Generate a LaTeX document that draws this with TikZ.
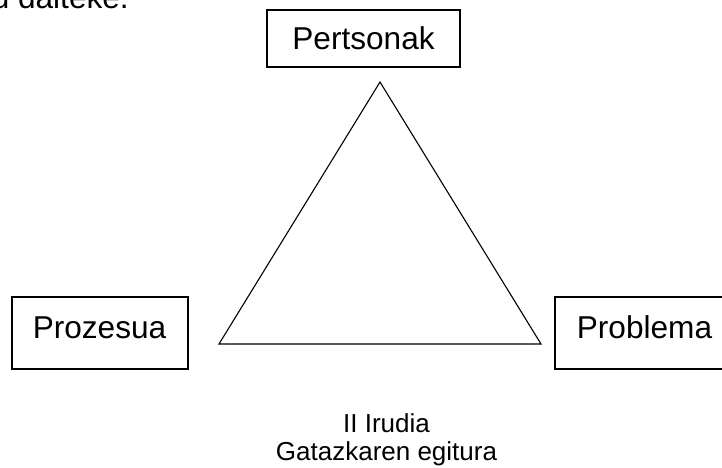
\documentclass[tikz,border=0pt]{standalone}
\usepackage{fontspec}
\setmainfont{Liberation Sans}
\begin{document}
\begin{tikzpicture}[x=1pt,y=-1pt,
  boxshape/.style={draw=black,line width=1.5pt,rectangle,inner sep=0pt},
  lbl/.style={font=\fontsize{31.6}{36}\selectfont,anchor=base,inner sep=0pt},
  captext/.style={font=\fontsize{26}{28}\selectfont,anchor=base,inner sep=0pt},
  tri/.style={draw=black,line width=1.1pt,line join=miter}]
\useasboundingbox (0,0) rectangle (722,467);
\clip (0,0) rectangle (722,467);
% partial text at top
\node[lbl,anchor=base east] (top) at (129,8) {u daiteke.};
% boxes
\node[boxshape,minimum width=193pt,minimum height=57pt] (pbox) at (363.5,38.5) {};
\node[lbl] (pers) at (363.5,49) {Pertsonak};
\node[boxshape,minimum width=176pt,minimum height=72pt] (lbox) at (100,333) {};
\node[lbl] (proz) at (99.5,338) {Prozesua};
\node[boxshape,minimum width=179pt,minimum height=72pt] (rbox) at (644.5,333) {};
\node[lbl] (prob) at (644.5,338) {Problema};
% triangle
\coordinate (apex) at (380,82);
\coordinate (bl) at (219,344);
\coordinate (br) at (541,344);
\draw[tri] (apex) -- (bl) -- (br) -- cycle;
% caption
\node[captext] (c1) at (386.5,432) {II Irudia};
\node[captext] (c2) at (386.5,460) {Gatazkaren egitura};
\end{tikzpicture}
\end{document}
